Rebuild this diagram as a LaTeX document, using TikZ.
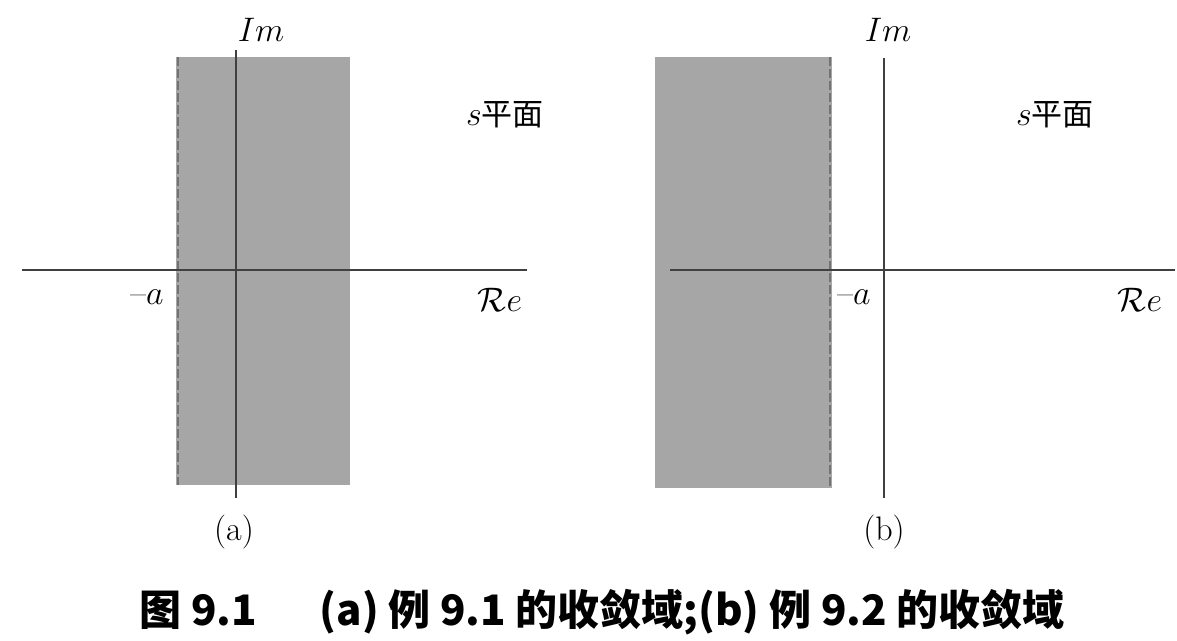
\RequirePackage{fix-cm}
\documentclass[tikz,border=0pt]{standalone}
\usepackage{amsmath}
\usepackage{fontspec}
\newfontfamily\cjk{Noto Sans CJK SC}
\begin{document}
\begin{tikzpicture}[x=1pt, y=-1pt,
  axis/.style={line width=2.2pt, black!75},
  roc/.style={fill=black!35},
  border/.style={line width=2.5pt, black!55, dash pattern=on 9pt off 3pt},
  lbl/.style={font=\fontsize{34}{38}\selectfont},
  sub/.style={font=\fontsize{34}{38}\selectfont},
  captext/.style={font=\fontsize{42}{46}\selectfont\cjk\bfseries}]
\useasboundingbox (0,0) rectangle (1177,640);

% (a) region of convergence
\fill[roc] (176,57) rectangle (350,485);
\draw[border] (178,57) -- (178,485);
\draw[axis] (22,270) -- (527,270);
\draw[axis] (236,50) -- (236,498);
\node[lbl] (ima) at (261,30) {$Im$};
\node[lbl] (planea) at (505,115) {$s${\cjk\fontsize{31}{34}\selectfont 平面}};
\node[lbl] (mina) at (147,297) {--$a$};
\node[lbl] (rea) at (500,300) {$\mathcal{R}e$};
\node[sub] (taga) at (234,532) {(a)};

% (b) region of convergence
\fill[roc] (655,57) rectangle (832,488);
\draw[border] (830,57) -- (830,488);
\draw[axis] (670,270) -- (1175,270);
\draw[axis] (884,58) -- (884,498);
\node[lbl] (imb) at (888,30) {$Im$};
\node[lbl] (planeb) at (1055,115) {$s${\cjk\fontsize{31}{34}\selectfont 平面}};
\node[lbl] (minb) at (854,297) {--$a$};
\node[lbl] (reb) at (1140,300) {$\mathcal{R}e$};
\node[sub] (tagb) at (884,532) {(b)};

% Caption
\node[captext] (caption) at (602,612) {图 9.1\enspace\quad (a) 例 9.1 的收敛域;(b) 例 9.2 的收敛域};
\end{tikzpicture}
\end{document}
